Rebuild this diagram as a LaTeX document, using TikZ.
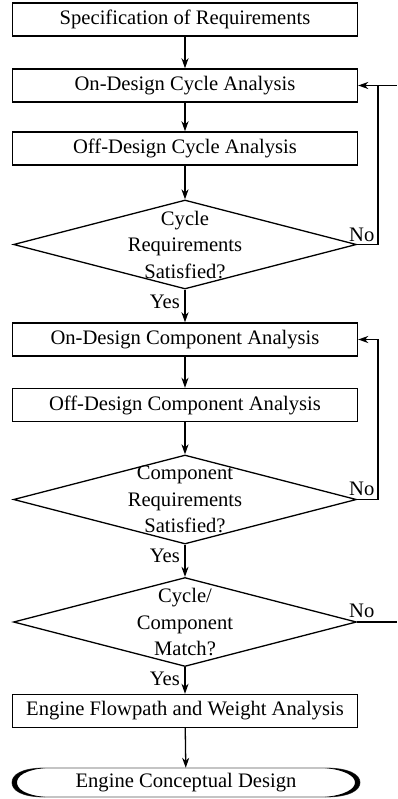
\documentclass[tikz,border=0pt]{standalone}
\usepackage{fontspec}
\setmainfont{Liberation Serif}
\usetikzlibrary{shapes.geometric,arrows.meta}
\begin{document}
\begin{tikzpicture}[x=1pt,y=-1pt,
  every node/.style={font=\fontsize{20.6}{26.5}\selectfont},
  stepbox/.style={draw,line width=1.4pt,minimum width=345pt,minimum height=33pt,inner sep=0pt},
  decision/.style={draw,diamond,line width=1.3pt,minimum width=343pt,minimum height=89pt,inner sep=0pt},
  dtext/.style={align=center,inner sep=0pt},
  flow/.style={line width=1.3pt,-{Stealth[length=10pt,width=7pt,inset=3pt]}},
  plain/.style={line width=1.3pt},
  tag/.style={inner sep=0pt},
  capedge/.style={draw=black!65,line width=0.8pt},
  capfill/.style={fill=black}]
\useasboundingbox (0,0) rectangle (397,799);

% process steps
\node[stepbox] (spec)     at (185,19.5)  {Specification of Requirements};
\node[stepbox] (oncyc)    at (185,85.5)  {On-Design Cycle Analysis};
\node[stepbox] (offcyc)   at (185,148.5) {Off-Design Cycle Analysis};
\node[decision] (cyc)     at (185,244.5) {};
\node[dtext] (cyctxt)     at (cyc.center) {Cycle\\Requirements\\Satisfied?};
\node[stepbox] (oncomp)   at (185,339.5) {On-Design Component Analysis};
\node[stepbox] (offcomp)  at (185,405)   {Off-Design Component Analysis};
\node[decision] (comp)    at (185,499.5) {};
\node[dtext] (comptxt)    at (comp.center) {Component\\Requirements\\Satisfied?};
\node[decision] (match)   at (185,622)   {};
\node[dtext] (matchtxt)   at (match.center) {Cycle/\\Component\\Match?};
\node[stepbox] (flowpath) at (185,711)   {Engine Flowpath and Weight Analysis};
\node[minimum width=348pt,minimum height=29pt,inner sep=0pt] (concept) at (186,782.5) {Engine Conceptual Design};

% terminal outline with heavy end caps
\draw[capedge] (45,768) -- (325,768)
  .. controls (350,768) and (360,775) .. (360,782.5)
  .. controls (360,790) and (350,797) .. (325,797) -- (45,797)
  .. controls (21,797) and (12,790) .. (12,782.5)
  .. controls (12,775) and (21,768) .. (45,768) -- cycle;
\fill[capfill] (45,768) .. controls (21,768) and (12,775) .. (12,782.5)
  .. controls (12,790) and (21,797) .. (45,797)
  .. controls (25,795) and (17,789) .. (17,782.5)
  .. controls (17,776) and (25,770) .. (45,768) -- cycle;
\fill[capfill] (325,768) .. controls (350,768) and (360,775) .. (360,782.5)
  .. controls (360,790) and (350,797) .. (325,797)
  .. controls (345,795) and (355,789) .. (355,782.5)
  .. controls (355,776) and (345,770) .. (325,768) -- cycle;

% main flow
\draw[flow] (spec) -- (oncyc);
\draw[flow] (oncyc) -- (offcyc);
\draw[flow] (offcyc) -- (cyc);
\draw[flow] (cyc) -- (oncomp);
\draw[flow] (oncomp) -- (offcomp);
\draw[flow] (offcomp) -- (comp);
\draw[flow] (comp) -- (match);
\draw[flow] (match) -- (flowpath);
\draw[flow] (flowpath) -- (concept);

% feedback loops
\coordinate (loopx) at (378,0);
\coordinate (edgex) at (397,0);
\draw[flow] (cyc.east) -- (cyc.east -| loopx) |- (oncyc.east);
\draw[plain] (oncyc.east -| loopx) -- (oncyc.east -| edgex);
\draw[flow] (comp.east) -- (comp.east -| loopx) |- (oncomp.east);
\draw[plain] (match.east) -- (match.east -| edgex);

% branch labels
\node[tag,anchor=base east] (yes1) at (180,308) {Yes};
\node[tag,anchor=base east] (yes2) at (180,562) {Yes};
\node[tag,anchor=base east] (yes3) at (180,685) {Yes};
\node[tag,anchor=base west] (no1) at (349,242) {No};
\node[tag,anchor=base west] (no2) at (349,495) {No};
\node[tag,anchor=base west] (no3) at (349,617) {No};
\end{tikzpicture}
\end{document}
